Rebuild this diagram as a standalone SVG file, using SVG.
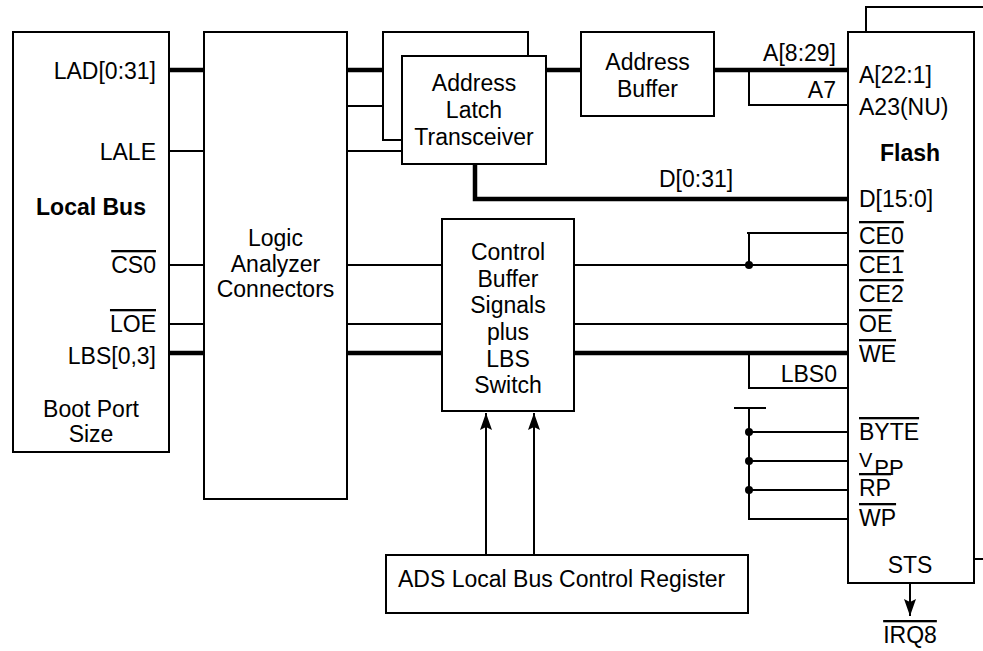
<svg xmlns="http://www.w3.org/2000/svg" width="983" height="651" viewBox="0 0 983 651">
<style>
.box{fill:#fff;stroke:#000;stroke-width:2}
.w{fill:none;stroke:#000;stroke-width:2}
.bus{fill:none;stroke:#000;stroke-width:4.5}
text{font-family:"Liberation Sans",Arial,sans-serif;font-size:23px;fill:#000}
.b{font-weight:bold}
.m{text-anchor:middle}
.e{text-anchor:end}
.ov{text-decoration:overline}
</style>
<defs>
<marker id="arr" markerUnits="userSpaceOnUse" markerWidth="18" markerHeight="12" refX="17" refY="6" orient="auto">
<path d="M0,0 L17,6 L0,12 L3,6 z" fill="#000"/>
</marker>
</defs>
<rect width="983" height="651" fill="#fff"/>

<g id="connectors">
<path class="bus" d="M169,70 H204 M346,70 H383 M546,70 H581 M714,70 H848 M475,164 V199 H848 M169,353 H204 M346,353 H442 M574,353 H848"/>
<path class="w" d="M169,151 H204 M346,151 H402 M346,106 H383 M169,265 H204 M346,265 H442 M574,265 H848 M169,324 H204 M346,324 H442 M574,324 H848"/>
<path class="w" d="M749,70 V105 H848 M747,233 H848 M749,233 V265 M749,353 V388 H848 M734,408 H766 M749,408 V519 H848 M749,432 H848 M749,461 H848 M749,490 H848 M866,32 V7 H983 M974,559 H983"/>
<circle cx="749" cy="265" r="4"/>
<circle cx="749" cy="432" r="4"/>
<circle cx="749" cy="461" r="4"/>
<circle cx="749" cy="490" r="4"/>
<line class="w" x1="486" y1="555" x2="486" y2="413" marker-end="url(#arr)"/>
<line class="w" x1="534" y1="555" x2="534" y2="413" marker-end="url(#arr)"/>
<line class="w" x1="910" y1="583" x2="910" y2="616" marker-end="url(#arr)"/>
<text x="836" y="61" class="e">A[8:29]</text>
<text x="836" y="98" class="e">A7</text>
<text x="659" y="187">D[0:31]</text>
<text x="837" y="382" class="e">LBS0</text>
<text x="910" y="643" class="m ov">IRQ8</text>
</g>

<g id="local-bus">
<rect class="box" x="13" y="32" width="156" height="420"/>
<text x="156" y="79" class="e">LAD[0:31]</text>
<text x="156" y="160" class="e">LALE</text>
<text x="91" y="215" class="m b">Local Bus</text>
<text x="156" y="273" class="e ov">CS0</text>
<text x="156" y="332" class="e ov">LOE</text>
<text x="156" y="364" class="e">LBS[0,3]</text>
<text x="91" y="417" class="m">Boot Port</text>
<text x="91" y="442" class="m">Size</text>
</g>

<g id="logic-analyzer">
<rect class="box" x="204" y="32" width="143" height="467"/>
<text x="275.5" y="246" class="m">Logic</text>
<text x="275.5" y="272" class="m">Analyzer</text>
<text x="275.5" y="297" class="m">Connectors</text>
</g>

<g id="address-latch">
<rect class="box" x="383" y="32" width="145" height="108"/>
<rect class="box" x="402" y="56" width="144" height="108"/>
<text x="474" y="91" class="m">Address</text>
<text x="474" y="118" class="m">Latch</text>
<text x="474" y="145" class="m">Transceiver</text>
</g>

<g id="address-buffer">
<rect class="box" x="581" y="32" width="133" height="84"/>
<text x="647.5" y="70" class="m">Address</text>
<text x="647.5" y="97" class="m">Buffer</text>
</g>

<g id="control-buffer">
<rect class="box" x="442" y="219" width="132" height="192"/>
<text x="508" y="260" class="m">Control</text>
<text x="508" y="287" class="m">Buffer</text>
<text x="508" y="313" class="m">Signals</text>
<text x="508" y="340" class="m">plus</text>
<text x="508" y="367" class="m">LBS</text>
<text x="508" y="393" class="m">Switch</text>
</g>

<g id="ads-register">
<rect class="box" x="386" y="555" width="362" height="58"/>
<text x="398" y="587">ADS Local Bus Control Register</text>
</g>

<g id="flash">
<rect class="box" x="848" y="32" width="126" height="551"/>
<text x="859" y="83">A[22:1]</text>
<text x="859" y="115">A23(NU)</text>
<text x="910" y="161" class="m b">Flash</text>
<text x="859" y="207">D[15:0]</text>
<text x="859" y="244" class="ov">CE0</text>
<text x="859" y="273" class="ov">CE1</text>
<text x="859" y="302" class="ov">CE2</text>
<text x="859" y="332" class="ov">OE</text>
<text x="859" y="362" class="ov">WE</text>
<text x="859" y="440" class="ov">BYTE</text>
<text x="859" y="467" style="font-size:20px">V<tspan dx="2" dy="8" style="font-size:22px">PP</tspan></text>
<text x="859" y="496" class="ov">RP</text>
<text x="859" y="526" class="ov">WP</text>
<text x="910" y="573" class="m">STS</text>
</g>
</svg>
